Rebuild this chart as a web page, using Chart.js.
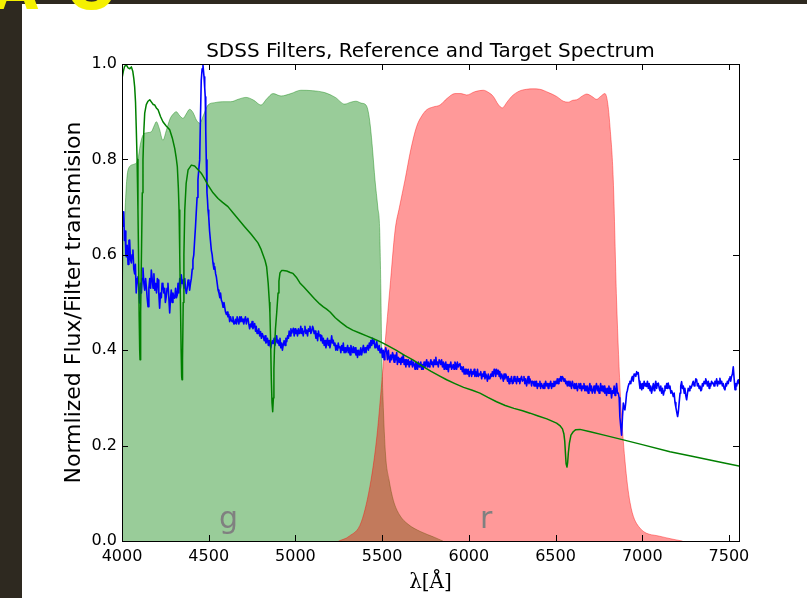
<!DOCTYPE html>
<html>
<head>
<meta charset="utf-8">
<script src="https://cdn.jsdelivr.net/npm/chart.js@4.4.1/dist/chart.umd.min.js"></script>
<style>
html, body { margin: 0; padding: 0; background: #fff; overflow: hidden; }
#wrap { position: relative; width: 807px; height: 598px; }
#side { position: absolute; left: 0; top: 0; width: 22px; height: 598px; background: #2e2920; }
#topbar { position: absolute; left: 0; top: 0; width: 807px; height: 4px; background: #2e2920; }
#logo { position: absolute; left: 0; top: 0; width: 130px; height: 11px; overflow: hidden; z-index: 2; }
#logo span { position: absolute; top: -42px; color: #f5f000; font: bold 60px "DejaVu Sans"; line-height: 1; }
canvas { position: absolute; left: 0; top: 0; }
</style>
</head>
<body>
<div id="wrap">
  <div id="side"></div>
  <div id="topbar"></div>
  <div id="logo"><span style="left:-8px">A</span><span style="left:66px">O</span></div>
  <canvas id="grafico" width="807" height="598"></canvas>
</div>
<script>
const chartTitle = 'SDSS Filters, Reference and Target Spectrum';
const xTicks = [4000, 4500, 5000, 5500, 6000, 6500, 7000, 7500];
const yTicks = [0, 0.2, 0.4, 0.6, 0.8, 1.0];
const filterNames = ['g', 'r'];
const filterLabelX = [4559, 6064];
const filterLabelY = [0.027, 0.027];

// filtro g: [lambda, transmision]
const gFilter = [[4000,0.50],[4008,0.62],[4017,0.69],[4028,0.76],[4044,0.785],[4070,0.79],[4092,0.80],[4105,0.83],[4121,0.851],[4145,0.856],[4169,0.858],[4185,0.87],[4198,0.879],[4215,0.865],[4236,0.84],[4255,0.86],[4277,0.885],[4295,0.895],[4313,0.90],[4332,0.892],[4352,0.886],[4370,0.895],[4390,0.905],[4410,0.898],[4430,0.882],[4448,0.876],[4470,0.893],[4496,0.914],[4535,0.919],[4580,0.921],[4628,0.921],[4670,0.926],[4715,0.930],[4760,0.924],[4801,0.914],[4835,0.927],[4871,0.938],[4917,0.933],[4974,0.938],[5032,0.945],[5100,0.944],[5169,0.940],[5230,0.93],[5284,0.916],[5320,0.92],[5349,0.922],[5380,0.918],[5407,0.914],[5420,0.90],[5432,0.87],[5445,0.82],[5459,0.757],[5475,0.70],[5486,0.652],[5493,0.52],[5497,0.41],[5505,0.30],[5520,0.18],[5540,0.128],[5565,0.085],[5600,0.055],[5650,0.035],[5720,0.02],[5800,0.008],[5850,0]];

// filtro r
const rFilter = [[5250,0],[5310,0.01],[5380,0.04],[5436,0.128],[5470,0.22],[5495,0.32],[5516,0.41],[5545,0.53],[5575,0.652],[5600,0.70],[5632,0.757],[5665,0.82],[5699,0.869],[5730,0.892],[5757,0.904],[5795,0.910],[5834,0.914],[5875,0.928],[5920,0.938],[5955,0.938],[5988,0.935],[6035,0.942],[6083,0.945],[6115,0.940],[6141,0.932],[6170,0.915],[6193,0.908],[6220,0.920],[6247,0.932],[6290,0.943],[6333,0.947],[6370,0.948],[6410,0.947],[6460,0.940],[6506,0.932],[6545,0.922],[6573,0.920],[6600,0.924],[6622,0.925],[6655,0.933],[6680,0.937],[6710,0.932],[6737,0.926],[6760,0.932],[6785,0.938],[6800,0.92],[6814,0.869],[6833,0.757],[6852,0.505],[6875,0.30],[6900,0.17],[6930,0.08],[6980,0.03],[7100,0.01],[7230,0]];

// espectro de referencia (verde)
const refSpectrum = [[4000,0.970],[4008,0.985],[4015,0.995],[4025,0.998],[4035,0.992],[4045,0.990],[4054,0.994],[4062,0.985],[4068,0.97],[4073,0.952],[4078,0.92],[4082,0.869],[4087,0.80],[4092,0.694],[4096,0.58],[4099,0.47],[4102,0.40],[4104,0.38],[4106,0.40],[4109,0.48],[4113,0.62],[4117,0.73],[4121,0.799],[4126,0.86],[4131,0.897],[4140,0.915],[4150,0.922],[4160,0.925],[4170,0.92],[4180,0.915],[4189,0.914],[4198,0.908],[4208,0.904],[4222,0.89],[4236,0.879],[4255,0.87],[4275,0.862],[4290,0.845],[4304,0.823],[4312,0.805],[4319,0.785],[4325,0.74],[4329,0.694],[4333,0.60],[4337,0.50],[4341,0.40],[4344,0.345],[4346,0.338],[4349,0.38],[4353,0.50],[4357,0.60],[4362,0.694],[4370,0.75],[4381,0.778],[4400,0.788],[4419,0.786],[4440,0.778],[4457,0.771],[4475,0.76],[4496,0.746],[4525,0.73],[4554,0.718],[4580,0.71],[4611,0.701],[4640,0.688],[4670,0.675],[4707,0.659],[4745,0.643],[4784,0.625],[4800,0.613],[4813,0.60],[4825,0.588],[4834,0.575],[4843,0.54],[4850,0.50],[4853,0.478],[4857,0.42],[4861,0.34],[4865,0.29],[4869,0.271],[4873,0.30],[4876,0.36],[4879,0.40],[4885,0.445],[4892,0.478],[4900,0.52],[4905,0.545],[4911,0.562],[4920,0.567],[4930,0.567],[4950,0.566],[4970,0.563],[4986,0.561],[5005,0.553],[5026,0.541],[5050,0.532],[5080,0.52],[5110,0.508],[5140,0.497],[5161,0.491],[5180,0.486],[5200,0.48],[5230,0.468],[5260,0.459],[5296,0.449],[5330,0.442],[5370,0.436],[5410,0.43],[5450,0.424],[5488,0.418],[5530,0.410],[5580,0.400],[5630,0.389],[5680,0.379],[5730,0.367],[5780,0.356],[5830,0.346],[5872,0.338],[5920,0.330],[5970,0.322],[6020,0.316],[6064,0.310],[6110,0.301],[6160,0.292],[6210,0.284],[6260,0.278],[6310,0.273],[6353,0.268],[6400,0.262],[6450,0.256],[6506,0.247],[6525,0.242],[6540,0.235],[6548,0.225],[6553,0.21],[6557,0.185],[6561,0.162],[6566,0.155],[6570,0.165],[6574,0.185],[6580,0.205],[6589,0.222],[6602,0.229],[6615,0.233],[6641,0.234],[6700,0.229],[6780,0.222],[6891,0.212],[7000,0.202],[7160,0.187],[7280,0.178],[7390,0.170],[7480,0.163],[7558,0.157]];

// espectro objetivo (azul)
const targetSpectrum = [[4000,0.69],[4005,0.66],[4010,0.69],[4014,0.63],[4018,0.65],[4022,0.60],[4025,0.596],[4030,0.62],[4035,0.58],[4040,0.63],[4044,0.631],[4049,0.59],[4054,0.583],[4058,0.60],[4063,0.61],[4068,0.57],[4073,0.56],[4077,0.58],[4082,0.52],[4087,0.55],[4092,0.554],[4097,0.53],[4102,0.499],[4107,0.54],[4112,0.52],[4116,0.55],[4121,0.572],[4126,0.54],[4131,0.526],[4136,0.55],[4141,0.53],[4145,0.51],[4150,0.491],[4155,0.53],[4160,0.55],[4165,0.53],[4169,0.568],[4174,0.55],[4179,0.53],[4184,0.56],[4189,0.526],[4194,0.54],[4199,0.52],[4204,0.55],[4208,0.547],[4212,0.52],[4217,0.488],[4222,0.52],[4227,0.51],[4231,0.54],[4236,0.537],[4241,0.52],[4246,0.53],[4250,0.50],[4255,0.512],[4260,0.53],[4265,0.540],[4270,0.51],[4275,0.478],[4280,0.51],[4284,0.526],[4289,0.50],[4294,0.52],[4299,0.51],[4304,0.509],[4309,0.53],[4314,0.51],[4319,0.516],[4323,0.54],[4328,0.52],[4333,0.55],[4337,0.53],[4342,0.558],[4347,0.54],[4352,0.547],[4357,0.53],[4362,0.55],[4366,0.53],[4371,0.519],[4376,0.53],[4381,0.547],[4386,0.54],[4390,0.526],[4395,0.54],[4400,0.551],[4405,0.57],[4409,0.589],[4414,0.60],[4419,0.631],[4424,0.66],[4428,0.687],[4433,0.72],[4438,0.757],[4443,0.78],[4448,0.799],[4452,0.88],[4457,0.966],[4462,0.99],[4467,0.998],[4470,0.985],[4473,0.973],[4477,0.95],[4480,0.931],[4483,0.86],[4486,0.799],[4490,0.73],[4493,0.715],[4496,0.694],[4500,0.68],[4505,0.65],[4510,0.63],[4515,0.61],[4520,0.60],[4525,0.582],[4530,0.57],[4535,0.575],[4540,0.56],[4544,0.554],[4549,0.54],[4554,0.526],[4559,0.52],[4564,0.51],[4568,0.52],[4573,0.505],[4578,0.50],[4583,0.49],[4588,0.50],[4592,0.491],[4597,0.48],[4602,0.475],[4607,0.48],[4611,0.470],[4616,0.475],[4621,0.46],[4626,0.47],[4630,0.463],[4635,0.46],[4640,0.47],[4645,0.455],[4650,0.456],[4655,0.465],[4660,0.455],[4664,0.47],[4669,0.463],[4674,0.455],[4679,0.47],[4683,0.46],[4688,0.470],[4693,0.46],[4698,0.465],[4702,0.455],[4707,0.463],[4712,0.47],[4717,0.455],[4721,0.465],[4726,0.467],[4731,0.455],[4736,0.445],[4741,0.455],[4746,0.449],[4750,0.46],[4755,0.445],[4760,0.45],[4765,0.456],[4770,0.44],[4774,0.45],[4779,0.435],[4784,0.439],[4789,0.445],[4794,0.43],[4799,0.439],[4804,0.425],[4809,0.435],[4815,0.428],[4820,0.42],[4825,0.43],[4830,0.415],[4834,0.418],[4839,0.425],[4844,0.41],[4848,0.42],[4853,0.411],[4858,0.405],[4863,0.415],[4867,0.42],[4872,0.414],[4877,0.425],[4882,0.41],[4887,0.42],[4892,0.43],[4896,0.415],[4901,0.421],[4906,0.41],[4911,0.425],[4916,0.405],[4921,0.415],[4925,0.40],[4930,0.411],[4935,0.42],[4940,0.41],[4945,0.425],[4950,0.418],[4955,0.43],[4960,0.425],[4964,0.44],[4969,0.43],[4974,0.445],[4978,0.435],[4983,0.44],[4988,0.446],[4993,0.43],[4998,0.445],[5002,0.435],[5007,0.442],[5012,0.43],[5017,0.445],[5021,0.435],[5026,0.439],[5031,0.45],[5036,0.435],[5040,0.445],[5045,0.43],[5050,0.44],[5055,0.45],[5060,0.435],[5065,0.442],[5070,0.43],[5075,0.445],[5080,0.44],[5084,0.45],[5089,0.435],[5094,0.44],[5099,0.45],[5103,0.446],[5108,0.435],[5113,0.44],[5118,0.425],[5123,0.435],[5128,0.42],[5133,0.44],[5137,0.43],[5142,0.432],[5147,0.42],[5152,0.43],[5157,0.415],[5161,0.425],[5166,0.41],[5171,0.42],[5176,0.405],[5180,0.414],[5185,0.425],[5190,0.41],[5195,0.42],[5199,0.405],[5204,0.415],[5209,0.43],[5214,0.415],[5218,0.421],[5223,0.41],[5228,0.415],[5233,0.40],[5238,0.41],[5243,0.40],[5247,0.415],[5252,0.405],[5257,0.407],[5262,0.395],[5267,0.41],[5272,0.40],[5276,0.415],[5281,0.395],[5286,0.405],[5291,0.395],[5296,0.400],[5301,0.41],[5305,0.395],[5310,0.405],[5315,0.39],[5320,0.41],[5325,0.40],[5330,0.395],[5334,0.407],[5339,0.395],[5344,0.405],[5349,0.39],[5354,0.40],[5358,0.385],[5363,0.40],[5368,0.39],[5372,0.397],[5377,0.405],[5382,0.39],[5387,0.40],[5392,0.41],[5397,0.395],[5402,0.405],[5407,0.395],[5411,0.404],[5416,0.41],[5421,0.40],[5426,0.415],[5430,0.405],[5435,0.42],[5440,0.41],[5445,0.425],[5449,0.414],[5454,0.42],[5459,0.405],[5464,0.41],[5469,0.418],[5474,0.405],[5478,0.40],[5483,0.41],[5488,0.395],[5493,0.40],[5497,0.404],[5502,0.385],[5507,0.40],[5512,0.38],[5516,0.395],[5521,0.405],[5526,0.397],[5531,0.38],[5536,0.40],[5540,0.385],[5545,0.375],[5550,0.39],[5555,0.38],[5560,0.395],[5564,0.390],[5569,0.375],[5574,0.39],[5579,0.38],[5584,0.395],[5588,0.37],[5593,0.385],[5598,0.375],[5603,0.383],[5608,0.37],[5613,0.385],[5617,0.375],[5622,0.39],[5627,0.37],[5632,0.38],[5637,0.365],[5641,0.38],[5646,0.37],[5651,0.38],[5656,0.365],[5661,0.376],[5666,0.37],[5670,0.38],[5675,0.365],[5680,0.375],[5685,0.37],[5690,0.36],[5694,0.375],[5699,0.372],[5704,0.36],[5709,0.375],[5714,0.365],[5718,0.369],[5723,0.375],[5728,0.36],[5733,0.37],[5737,0.36],[5742,0.375],[5747,0.365],[5752,0.37],[5757,0.38],[5761,0.365],[5766,0.375],[5771,0.365],[5776,0.372],[5781,0.38],[5786,0.37],[5790,0.375],[5795,0.365],[5800,0.38],[5805,0.37],[5810,0.385],[5814,0.37],[5819,0.375],[5824,0.365],[5829,0.38],[5834,0.376],[5838,0.37],[5843,0.38],[5848,0.365],[5853,0.375],[5858,0.36],[5862,0.37],[5867,0.375],[5872,0.36],[5877,0.37],[5882,0.355],[5886,0.37],[5891,0.365],[5896,0.375],[5901,0.36],[5906,0.365],[5910,0.37],[5915,0.36],[5920,0.375],[5925,0.37],[5930,0.36],[5934,0.375],[5939,0.365],[5944,0.37],[5949,0.372],[5954,0.36],[5958,0.365],[5963,0.355],[5968,0.365],[5973,0.35],[5978,0.36],[5982,0.35],[5987,0.36],[5992,0.35],[5997,0.36],[6002,0.345],[6007,0.355],[6012,0.36],[6016,0.345],[6021,0.355],[6026,0.35],[6031,0.36],[6035,0.345],[6040,0.355],[6045,0.345],[6050,0.36],[6055,0.345],[6059,0.35],[6064,0.348],[6069,0.355],[6074,0.34],[6079,0.35],[6083,0.345],[6088,0.355],[6093,0.34],[6098,0.35],[6103,0.345],[6107,0.335],[6112,0.35],[6117,0.34],[6122,0.341],[6127,0.35],[6131,0.345],[6136,0.355],[6141,0.345],[6146,0.36],[6150,0.355],[6155,0.345],[6160,0.36],[6165,0.35],[6170,0.358],[6175,0.345],[6179,0.355],[6184,0.34],[6189,0.35],[6194,0.345],[6199,0.335],[6203,0.35],[6208,0.34],[6213,0.35],[6218,0.344],[6223,0.335],[6227,0.345],[6232,0.33],[6237,0.34],[6242,0.335],[6246,0.345],[6251,0.33],[6256,0.331],[6261,0.345],[6266,0.335],[6270,0.34],[6275,0.33],[6280,0.345],[6285,0.335],[6290,0.34],[6294,0.33],[6299,0.34],[6304,0.345],[6309,0.335],[6314,0.338],[6318,0.345],[6323,0.33],[6328,0.34],[6333,0.325],[6338,0.335],[6342,0.345],[6347,0.33],[6352,0.34],[6357,0.335],[6362,0.325],[6366,0.335],[6372,0.334],[6376,0.325],[6381,0.335],[6386,0.325],[6390,0.335],[6395,0.32],[6400,0.33],[6405,0.325],[6410,0.335],[6414,0.32],[6419,0.33],[6424,0.325],[6429,0.320],[6434,0.33],[6438,0.32],[6443,0.335],[6448,0.325],[6453,0.33],[6458,0.32],[6462,0.33],[6467,0.325],[6472,0.335],[6477,0.32],[6482,0.33],[6487,0.324],[6491,0.335],[6496,0.325],[6501,0.335],[6506,0.33],[6510,0.34],[6515,0.33],[6520,0.34],[6525,0.335],[6530,0.345],[6535,0.335],[6539,0.345],[6545,0.341],[6549,0.335],[6554,0.34],[6559,0.33],[6563,0.335],[6568,0.325],[6573,0.335],[6578,0.325],[6583,0.335],[6587,0.33],[6592,0.32],[6597,0.335],[6602,0.327],[6607,0.32],[6611,0.33],[6616,0.32],[6621,0.33],[6626,0.315],[6631,0.325],[6635,0.33],[6640,0.32],[6645,0.33],[6650,0.315],[6655,0.325],[6660,0.320],[6664,0.33],[6669,0.315],[6674,0.325],[6679,0.315],[6683,0.325],[6688,0.31],[6693,0.32],[6698,0.33],[6703,0.315],[6707,0.325],[6712,0.31],[6718,0.317],[6722,0.325],[6727,0.31],[6731,0.32],[6736,0.33],[6741,0.315],[6746,0.325],[6751,0.31],[6756,0.317],[6760,0.33],[6765,0.315],[6770,0.325],[6775,0.313],[6780,0.325],[6784,0.31],[6789,0.32],[6794,0.305],[6799,0.32],[6804,0.31],[6808,0.325],[6813,0.31],[6818,0.32],[6823,0.30],[6828,0.315],[6833,0.310],[6838,0.325],[6843,0.305],[6847,0.315],[6852,0.33],[6857,0.31],[6862,0.310],[6867,0.30],[6871,0.26],[6876,0.24],[6881,0.222],[6886,0.26],[6891,0.289],[6895,0.28],[6900,0.275],[6905,0.29],[6910,0.31],[6914,0.315],[6919,0.324],[6924,0.33],[6929,0.335],[6934,0.33],[6939,0.341],[6943,0.345],[6948,0.335],[6953,0.35],[6958,0.348],[6963,0.345],[6968,0.355],[6972,0.35],[6977,0.353],[6982,0.335],[6987,0.32],[6992,0.33],[6997,0.317],[7002,0.33],[7006,0.32],[7011,0.335],[7016,0.325],[7021,0.33],[7025,0.324],[7030,0.335],[7035,0.32],[7040,0.33],[7045,0.315],[7049,0.325],[7054,0.310],[7059,0.32],[7064,0.33],[7069,0.315],[7073,0.325],[7078,0.335],[7083,0.32],[7088,0.33],[7093,0.331],[7098,0.32],[7102,0.315],[7107,0.325],[7112,0.31],[7117,0.32],[7122,0.306],[7127,0.315],[7131,0.325],[7136,0.32],[7141,0.33],[7145,0.32],[7150,0.331],[7155,0.32],[7160,0.325],[7165,0.31],[7170,0.315],[7174,0.31],[7179,0.303],[7184,0.31],[7189,0.29],[7194,0.28],[7199,0.27],[7204,0.261],[7208,0.27],[7213,0.29],[7218,0.31],[7222,0.325],[7227,0.334],[7232,0.32],[7237,0.325],[7242,0.31],[7246,0.32],[7251,0.305],[7256,0.296],[7261,0.31],[7265,0.32],[7270,0.315],[7275,0.325],[7280,0.32],[7285,0.324],[7290,0.33],[7294,0.335],[7299,0.325],[7304,0.33],[7309,0.34],[7314,0.338],[7318,0.325],[7323,0.33],[7328,0.32],[7333,0.325],[7338,0.315],[7342,0.317],[7347,0.33],[7352,0.325],[7357,0.335],[7362,0.33],[7366,0.34],[7371,0.334],[7376,0.325],[7381,0.335],[7386,0.32],[7390,0.33],[7395,0.325],[7400,0.335],[7405,0.33],[7410,0.331],[7414,0.325],[7419,0.335],[7424,0.33],[7429,0.34],[7434,0.325],[7438,0.335],[7443,0.33],[7448,0.341],[7453,0.33],[7458,0.335],[7462,0.325],[7467,0.33],[7472,0.32],[7477,0.317],[7482,0.33],[7486,0.325],[7491,0.335],[7496,0.33],[7501,0.34],[7506,0.344],[7510,0.335],[7515,0.345],[7520,0.35],[7525,0.365],[7530,0.34],[7535,0.317],[7540,0.33],[7545,0.325],[7550,0.335],[7554,0.338],[7558,0.33]];

document.addEventListener('DOMContentLoaded', function() {
    const ctx = document.getElementById('grafico').getContext('2d');
    const toXY = arr => arr.map(p => ({ x: p[0], y: p[1] }));

    // marco, ticks hacia adentro, titulo y etiquetas de filtro
    const decor = {
        id: 'decor',
        afterDatasetsDraw(chart) {
            const c = chart.ctx;
            const a = chart.chartArea;
            const xs = chart.scales.x;
            const ys = chart.scales.y;
            c.save();
            c.fillStyle = '#808080';
            c.font = '30px "DejaVu Sans"';
            c.textAlign = 'left';
            c.textBaseline = 'alphabetic';
            filterNames.forEach((name, i) => {
                c.fillText(name, xs.getPixelForValue(filterLabelX[i]), ys.getPixelForValue(filterLabelY[i]));
            });
            c.strokeStyle = '#000';
            c.lineWidth = 1;
            c.beginPath();
            xTicks.forEach(v => {
                const x = Math.round(xs.getPixelForValue(v)) + 0.5;
                c.moveTo(x, a.bottom); c.lineTo(x, a.bottom - 6);
                c.moveTo(x, a.top); c.lineTo(x, a.top + 6);
            });
            yTicks.forEach(v => {
                const y = Math.round(ys.getPixelForValue(v)) + 0.5;
                c.moveTo(a.left, y); c.lineTo(a.left + 6, y);
                c.moveTo(a.right, y); c.lineTo(a.right - 6, y);
            });
            c.stroke();
            c.strokeRect(a.left + 0.5, a.top + 0.5, a.right - a.left, a.bottom - a.top);
            c.fillStyle = '#000';
            c.font = '20px "DejaVu Sans"';
            c.textAlign = 'center';
            c.fillText(chartTitle, (a.left + a.right) / 2, 57);
            c.restore();
        }
    };

    new Chart(ctx, {
        type: 'line',
        data: {
            datasets: [
                {
                    label: 'Referencia',
                    data: toXY(refSpectrum),
                    borderColor: '#008000',
                    borderWidth: 1.5,
                    pointRadius: 0,
                    fill: false,
                    order: 0
                },
                {
                    label: 'Objetivo',
                    data: toXY(targetSpectrum),
                    borderColor: '#0000ff',
                    borderWidth: 1.6,
                    pointRadius: 0,
                    fill: false,
                    order: 1
                },
                {
                    label: 'r',
                    data: toXY(rFilter),
                    borderColor: 'rgba(255, 0, 0, 0.4)',
                    backgroundColor: 'rgba(255, 0, 0, 0.4)',
                    borderWidth: 1,
                    pointRadius: 0,
                    fill: 'origin',
                    cubicInterpolationMode: 'monotone',
                    order: 2
                },
                {
                    label: 'g',
                    data: toXY(gFilter),
                    borderColor: 'rgba(0, 128, 0, 0.4)',
                    backgroundColor: 'rgba(0, 128, 0, 0.4)',
                    borderWidth: 1,
                    pointRadius: 0,
                    fill: 'origin',
                    cubicInterpolationMode: 'monotone',
                    order: 3
                }
            ]
        },
        options: {
            responsive: false,
            animation: false,
            events: [],
            layout: { padding: { left: 50, right: 68, top: 64, bottom: 0 } },
            elements: { line: { borderJoinStyle: 'round', borderCapStyle: 'round' } },
            scales: {
                x: {
                    type: 'linear',
                    min: 4000,
                    max: 7558,
                    afterBuildTicks: s => { s.ticks = xTicks.map(v => ({ value: v })); },
                    afterFit: s => { s.height = 57; },
                    grid: { display: false, drawTicks: false },
                    border: { display: false },
                    ticks: {
                        autoSkip: false,
                        maxRotation: 0,
                        padding: 6,
                        color: '#000',
                        font: { family: 'DejaVu Sans', size: 16 },
                        callback: v => String(v)
                    },
                    title: {
                        display: true,
                        text: 'λ[Å]',
                        color: '#000',
                        font: { family: 'DejaVu Serif', size: 20 },
                        padding: { top: 0, bottom: 3 }
                    }
                },
                y: {
                    min: 0,
                    max: 1,
                    afterBuildTicks: s => { s.ticks = yTicks.map(v => ({ value: v })); },
                    afterFit: s => { s.width = 72; },
                    grid: { display: false, drawTicks: false },
                    border: { display: false },
                    ticks: {
                        padding: 5,
                        color: '#000',
                        font: { family: 'DejaVu Sans', size: 16 },
                        callback: v => v.toFixed(1)
                    },
                    title: {
                        display: true,
                        text: 'Normlized Flux/Filter transmision',
                        color: '#000',
                        font: { family: 'DejaVu Sans', size: 22 },
                        padding: { top: 11, bottom: 0 }
                    }
                }
            },
            plugins: {
                legend: { display: false },
                tooltip: { enabled: false }
            }
        },
        plugins: [decor]
    });
});
</script>
</body>
</html>
